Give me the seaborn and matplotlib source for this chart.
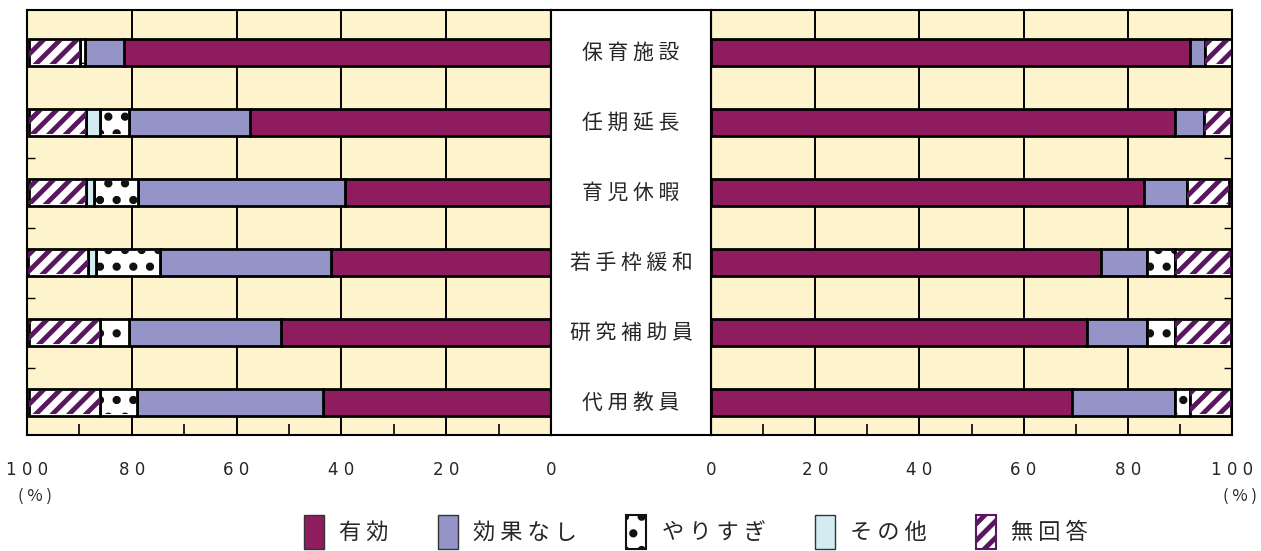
import matplotlib
matplotlib.use('Agg')
import matplotlib.pyplot as plt
import matplotlib.transforms as mtransforms
from matplotlib.patches import Patch, Rectangle
import numpy as np
import pandas as pd
import seaborn as sns

# rows, top to bottom
categories = ['保育施設', '任期延長', '育児休暇', '若手枠緩和', '研究補助員', '代用教員']
series = ['有効', '効果なし', 'やりすぎ', 'その他', '無回答']

# left panel (percent)
left_yuko = [81.5, 57.5, 39.3, 42.0, 51.6, 43.6]
left_kouka = [7.4, 23.0, 39.6, 32.6, 28.9, 35.4]
left_yari = [1.0, 5.5, 8.3, 12.3, 5.5, 7.0]
left_sono = [0.0, 2.7, 1.5, 1.4, 0.0, 0.0]
left_mu = [9.7, 10.9, 10.9, 11.5, 13.7, 13.7]

# right panel (percent)
right_yuko = [92.0, 89.0, 83.2, 74.9, 72.1, 69.2]
right_kouka = [2.8, 5.6, 8.2, 8.8, 11.6, 19.8]
right_yari = [0.0, 0.0, 0.0, 5.4, 5.4, 2.9]
right_sono = [0.0, 0.0, 0.0, 0.0, 0.0, 0.0]
right_mu = [5.2, 5.2, 8.1, 10.8, 10.8, 7.9]

left_ticks = [0, 20, 40, 60, 80, 100]
tick_labels = ['0', '2 0', '4 0', '6 0', '8 0', '1 0 0']

colors = {'有効': '#8E1C5E', '効果なし': '#9494C8', 'やりすぎ': 'white',
          'その他': '#D2ECF2', '無回答': 'white'}
hatches = {'やりすぎ': ('#111111', '.'), '無回答': ('#5A1660', '//')}
BG = '#FDF3CC'
JP = ['Noto Sans CJK JP', 'DejaVu Sans']

sns.set_theme(style='white')
plt.rcParams['font.family'] = JP
plt.rcParams['hatch.linewidth'] = 3.5


def draw_panel(ax, values):
    df = pd.DataFrame(values, index=series, columns=categories).T
    starts = df.cumsum(axis=1) - df
    for s in series:
        sns.barplot(x=df[s].values, y=categories, order=categories, orient='y',
                    left=starts[s].values, color=colors[s], saturation=1,
                    edgecolor='black', linewidth=2, width=0.39, errorbar=None, ax=ax)
        if s in hatches:
            hc, hp = hatches[s]
            sns.barplot(x=df[s].values, y=categories, order=categories, orient='y',
                        left=starts[s].values, color='white', saturation=1,
                        facecolor='none', edgecolor=hc, hatch=hp, linewidth=0,
                        width=0.33, errorbar=None, ax=ax)
    for p in ax.patches:
        if p.get_width() == 0:
            p.set_visible(False)
    ax.set_facecolor(BG)
    ax.set_axisbelow(True)
    ax.xaxis.grid(True, color='black', linewidth=1.4)
    ax.yaxis.grid(False)
    ax.set_ylim(5.46, -0.61)
    ax.set_xticks(left_ticks)
    ax.set_xticklabels(tick_labels, fontsize=12, family=['Liberation Sans Narrow', 'DejaVu Sans'])
    ax.set_xticks([10, 30, 50, 70, 90], minor=True)
    ax.tick_params(axis='x', which='major', length=0, pad=19)
    ax.tick_params(axis='x', which='minor', direction='in', length=8, width=1.2,
                   color='black', bottom=True)
    ax.set_yticks([])
    ax.set_yticks([1.5, 2.5, 3.5, 4.5], minor=True)
    ax.set_xlabel('')
    ax.set_ylabel('')
    for sp in ax.spines.values():
        sp.set_color('black')
        sp.set_linewidth(1.5)


fig = plt.figure(figsize=(12.61, 5.51), dpi=100)
ax_l = fig.add_axes([27 / 1261, 1 - 435 / 551, 524 / 1261, 425 / 551])
ax_r = fig.add_axes([711 / 1261, 1 - 435 / 551, 521 / 1261, 425 / 551])

draw_panel(ax_l, [left_yuko, left_kouka, left_yari, left_sono, left_mu])
draw_panel(ax_r, [right_yuko, right_kouka, right_yari, right_sono, right_mu])
ax_l.set_xlim(100, 0)
ax_r.set_xlim(0, 100)
ax_l.tick_params(axis='y', which='minor', direction='in', length=6, left=True, color='black')
ax_r.tick_params(axis='y', which='minor', direction='in', length=6, right=True, left=False,
                 color='black')

# white centre box holding the row labels
fig.patches.append(Rectangle((551 / 1261, 1 - 435 / 551), 160 / 1261, 425 / 551,
                             transform=fig.transFigure, facecolor='white',
                             edgecolor='black', linewidth=1.5, zorder=0))
trans = mtransforms.blended_transform_factory(fig.transFigure, ax_l.transData)
for i, c in enumerate(categories):
    fig.text(631 / 1261, i, ' '.join(c), transform=trans, ha='center', va='center',
             fontsize=15, family=JP)

fig.text(35 / 1261, 1 - 496 / 551, '( % )', ha='center', va='center', fontsize=12)
fig.text(1240 / 1261, 1 - 496 / 551, '( % )', ha='center', va='center', fontsize=12)

handles = []
for s in series:
    if s in hatches:
        handles.append(Patch(facecolor='white', edgecolor=hatches[s][0], hatch=hatches[s][1],
                             linewidth=1.5, label=' '.join(s)))
    else:
        handles.append(Patch(facecolor=colors[s], edgecolor='#333333', linewidth=1,
                             label=' '.join(s)))
fig.legend(handles=handles, loc='center', bbox_to_anchor=(696 / 1261, 1 - 532 / 551),
           ncol=5, frameon=False, handlelength=0.9, handleheight=2.0,
           handletextpad=0.7, columnspacing=2.2, prop={'family': JP, 'size': 16})

fig.savefig('out.png', dpi=100)
